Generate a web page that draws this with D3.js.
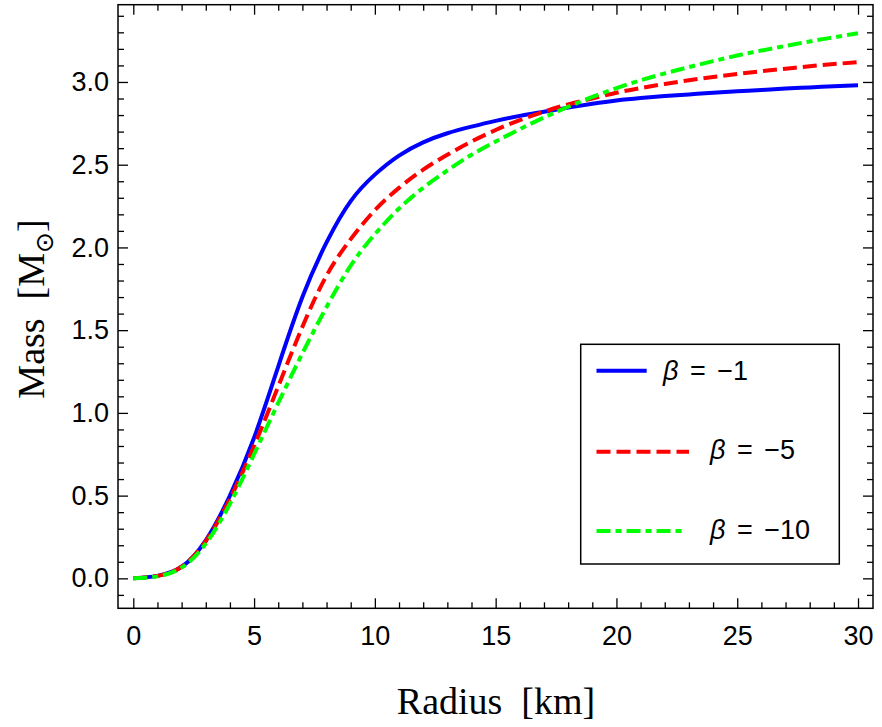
<!DOCTYPE html>
<html>
<head>
<meta charset="utf-8">
<script src="https://cdn.jsdelivr.net/npm/d3@7"></script>
<style>
  body { margin: 0; background: #fff; }
  svg { display: block; }
</style>
</head>
<body>
<div id="chart"></div>
<script>
// radius grid [km]
const radius = d3.range(0, 31);

// mass [M_sun] for each beta
const massBeta1 = [0, 0.015, 0.07, 0.23, 0.50, 0.85, 1.28, 1.70, 2.03, 2.28, 2.44, 2.555, 2.635, 2.69, 2.73, 2.765,
  2.795, 2.82, 2.845, 2.868, 2.888, 2.903, 2.915, 2.925, 2.935, 2.944, 2.952, 2.96, 2.967, 2.974, 2.98];
const massBeta5 = [0, 0.015, 0.07, 0.225, 0.48, 0.80, 1.16, 1.52, 1.83, 2.05, 2.225, 2.36, 2.47, 2.56, 2.64, 2.71,
  2.77, 2.82, 2.865, 2.90, 2.935, 2.963, 2.988, 3.01, 3.03, 3.048, 3.065, 3.08, 3.095, 3.108, 3.12];
const massBeta10 = [0, 0.012, 0.065, 0.21, 0.45, 0.75, 1.06, 1.36, 1.64, 1.89, 2.08, 2.235, 2.36, 2.465, 2.56, 2.64,
  2.715, 2.785, 2.85, 2.91, 2.963, 3.01, 3.052, 3.09, 3.126, 3.16, 3.19, 3.218, 3.245, 3.27, 3.295];

const seriesNames = ["\u03b2 = \u22121", "\u03b2 = \u22125", "\u03b2 = \u221210"];
const xTicks = [0, 5, 10, 15, 20, 25, 30];
const yTicks = [0, 0.5, 1, 1.5, 2, 2.5, 3];

const width = 882;
const height = 727;
const plotLeft = 118, plotRight = 873, plotTop = 4.7, plotBottom = 608.3;

const x = d3.scaleLinear().domain([-0.633, 30.62]).range([plotLeft, plotRight]);
const y = d3.scaleLinear().domain([-0.181, 3.467]).range([plotBottom, plotTop]);

const svg = d3.select("#chart").append("svg")
  .attr("width", width)
  .attr("height", height);

/* ---------- ticks ---------- */
const xMinor = d3.range(0, 31).filter(d => d % 5 !== 0);
const yMinor = d3.range(-1, 35).map(d => d / 10).filter(d => Math.round(d * 10) % 5 !== 0);

const tickStyle = g => {
  g.select(".domain").remove();
  g.selectAll(".tick line").attr("stroke", "#000").attr("stroke-width", 1.3);
  g.selectAll(".tick text").attr("fill", "#000")
    .style("font-family", "'Liberation Sans', Arial, sans-serif")
    .style("font-size", "27px");
};

svg.append("g").attr("transform", `translate(0,${plotBottom})`)
  .call(d3.axisBottom(x).tickValues(xTicks).tickSize(-10).tickPadding(18).tickFormat(d3.format("d")))
  .call(tickStyle);
svg.append("g").attr("transform", `translate(0,${plotBottom})`)
  .call(d3.axisBottom(x).tickValues(xMinor).tickSize(-6).tickFormat(""))
  .call(tickStyle);
svg.append("g").attr("transform", `translate(0,${plotTop})`)
  .call(d3.axisTop(x).tickValues(xTicks).tickSize(-10).tickFormat(""))
  .call(tickStyle);
svg.append("g").attr("transform", `translate(0,${plotTop})`)
  .call(d3.axisTop(x).tickValues(xMinor).tickSize(-6).tickFormat(""))
  .call(tickStyle);

svg.append("g").attr("transform", `translate(${plotLeft},0)`)
  .call(d3.axisLeft(y).tickValues(yTicks).tickSize(-10).tickPadding(9).tickFormat(d3.format(".1f")))
  .call(tickStyle);
svg.append("g").attr("transform", `translate(${plotLeft},0)`)
  .call(d3.axisLeft(y).tickValues(yMinor).tickSize(-6).tickFormat(""))
  .call(tickStyle);
svg.append("g").attr("transform", `translate(${plotRight},0)`)
  .call(d3.axisRight(y).tickValues(yTicks).tickSize(-10).tickFormat(""))
  .call(tickStyle);
svg.append("g").attr("transform", `translate(${plotRight},0)`)
  .call(d3.axisRight(y).tickValues(yMinor).tickSize(-6).tickFormat(""))
  .call(tickStyle);

/* ---------- curves ---------- */
const series = [
  { name: seriesNames[0], values: massBeta1, color: "#0000ff", dash: null },
  { name: seriesNames[1], values: massBeta5, color: "#ff0000", dash: "14,6" },
  { name: seriesNames[2], values: massBeta10, color: "#00ff00", dash: "14,5,6,5" }
];

const line = d3.line()
  .x((d, i) => x(radius[i]))
  .y(d => y(d))
  .curve(d3.curveNatural);

const plot = svg.append("g");
plot.append("clipPath").attr("id", "clip")
  .append("rect").attr("x", plotLeft).attr("y", plotTop)
  .attr("width", plotRight - plotLeft).attr("height", plotBottom - plotTop);

plot.selectAll("path.curve")
  .data(series)
  .enter()
  .append("path")
  .attr("class", "curve")
  .attr("clip-path", "url(#clip)")
  .attr("d", d => line(d.values))
  .attr("fill", "none")
  .attr("stroke", d => d.color)
  .attr("stroke-width", 4)
  .attr("stroke-dasharray", d => d.dash);

// frame
svg.append("rect")
  .attr("x", plotLeft).attr("y", plotTop)
  .attr("width", plotRight - plotLeft).attr("height", plotBottom - plotTop)
  .attr("fill", "none").attr("stroke", "#000").attr("stroke-width", 1.5);

/* ---------- legend ---------- */
const legend = svg.append("g");
legend.append("rect")
  .attr("x", 580.7).attr("y", 344.3).attr("width", 258.6).attr("height", 219.7)
  .attr("fill", "#fff").attr("stroke", "#000").attr("stroke-width", 1.5);

const legRows = [
  { y: 370.7, x2: 646.7, tx: 663, ty: 380 },
  { y: 451.7, x2: 689, tx: 710, ty: 459 },
  { y: 531, x2: 686, tx: 710, ty: 539 }
];

legRows.forEach((r, i) => {
  const s = series[i];
  legend.append("line")
    .attr("x1", 596.5).attr("x2", r.x2).attr("y1", r.y).attr("y2", r.y)
    .attr("stroke", s.color).attr("stroke-width", 4)
    .attr("stroke-dasharray", s.dash);
  const t = legend.append("text")
    .attr("x", r.tx).attr("y", r.ty)
    .style("font-family", "'Liberation Sans', Arial, sans-serif")
    .style("font-size", "27px")
    .style("word-spacing", "4px")
    .style("white-space", "pre");
  t.append("tspan").style("font-style", "italic").text(s.name.slice(0, 1));
  t.append("tspan").text(s.name.slice(1));
});

/* ---------- axis titles ---------- */
svg.append("text")
  .attr("x", 496).attr("y", 714)
  .attr("text-anchor", "middle")
  .style("font-family", "'Liberation Serif', 'Times New Roman', serif")
  .style("font-size", "38px")
  .style("white-space", "pre")
  .text("Radius  [km]");

const yLab = svg.append("text")
  .attr("transform", "translate(44,309) rotate(-90)")
  .attr("text-anchor", "middle")
  .style("font-family", "'Liberation Serif', 'Times New Roman', serif")
  .style("font-size", "38px")
  .style("white-space", "pre");
yLab.append("tspan").text("Mass  [M");
yLab.append("tspan").attr("dy", 9).style("font-size", "25px")
  .style("font-family", "'DejaVu Sans', sans-serif").text("\u2299");
yLab.append("tspan").attr("dy", -9).text("]");
</script>
</body>
</html>
